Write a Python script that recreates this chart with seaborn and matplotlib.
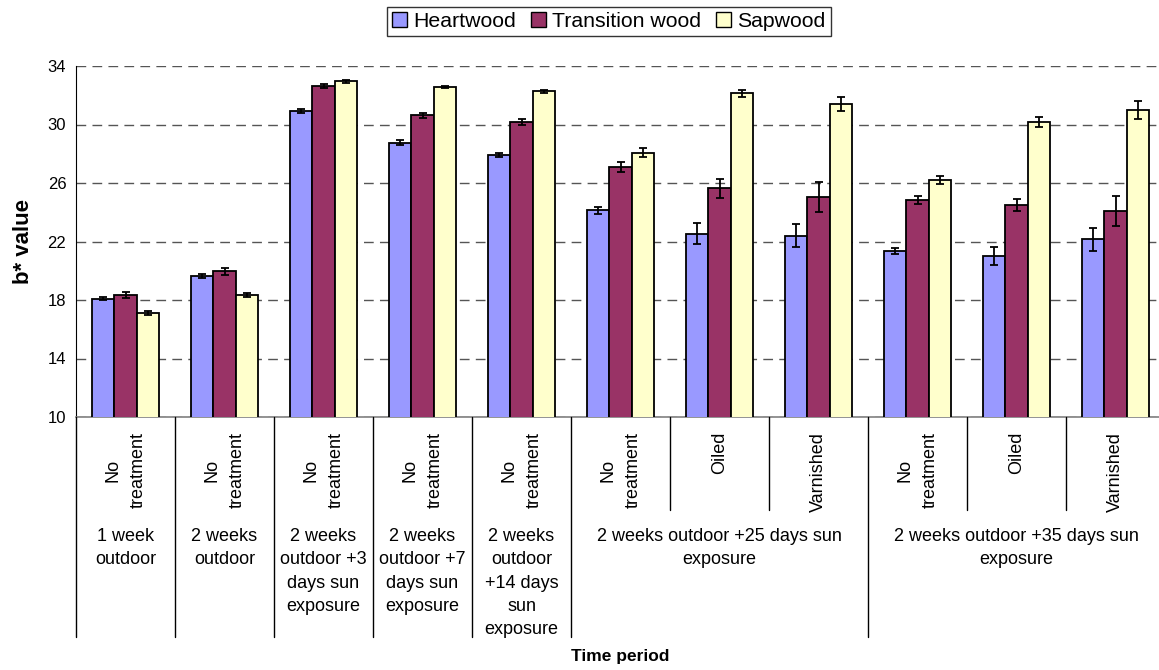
import numpy as np
import pandas as pd
import matplotlib
matplotlib.use("Agg")
import matplotlib.pyplot as plt
import matplotlib.transforms as mtransforms
from matplotlib.patches import Patch
import seaborn as sns

# ---- data ----
woods = ["Heartwood", "Transition wood", "Sapwood"]
colors = ["#9999FF", "#993366", "#FFFFCC"]

treatments = ["No\ntreatment", "No\ntreatment", "No\ntreatment", "No\ntreatment",
              "No\ntreatment", "No\ntreatment", "Oiled", "Varnished",
              "No\ntreatment", "Oiled", "Varnished"]

periods = ["1 week\noutdoor",
           "2 weeks\noutdoor",
           "2 weeks\noutdoor +3\ndays sun\nexposure",
           "2 weeks\noutdoor +7\ndays sun\nexposure",
           "2 weeks\noutdoor\n+14 days\nsun\nexposure",
           "2 weeks outdoor +25 days sun\nexposure",
           "2 weeks outdoor +35 days sun\nexposure"]
period_span = [1, 1, 1, 1, 1, 3, 3]

heart = [18.10, 19.65, 30.92, 28.75, 27.91, 24.13, 22.53, 22.41, 21.34, 21.02, 22.16]
heart_err = [0.10, 0.12, 0.12, 0.16, 0.16, 0.25, 0.72, 0.80, 0.22, 0.60, 0.78]
trans = [18.33, 19.97, 32.63, 30.63, 30.17, 27.09, 25.63, 25.04, 24.81, 24.49, 24.08]
trans_err = [0.22, 0.25, 0.12, 0.18, 0.18, 0.34, 0.66, 1.00, 0.28, 0.42, 1.00]
sap = [17.10, 18.35, 32.96, 32.55, 32.27, 28.07, 32.13, 31.40, 26.20, 30.19, 31.01]
sap_err = [0.12, 0.13, 0.10, 0.08, 0.10, 0.30, 0.25, 0.50, 0.30, 0.33, 0.62]

yticks = [10, 14, 18, 22, 26, 30, 34]

# ---- long-form table for seaborn ----
slots = [f"c{i}" for i in range(len(treatments))]
df = pd.DataFrame({
    "slot": slots * 3,
    "wood": np.repeat(woods, len(slots)),
    "value": heart + trans + sap,
})

sns.set_style("white")
plt.rcParams["font.family"] = ["Liberation Sans", "DejaVu Sans"]
plt.rcParams["text.color"] = "black"
plt.rcParams["axes.labelcolor"] = "black"

fig, ax = plt.subplots(figsize=(11.59, 6.70), dpi=100)
ax.set_position([76 / 1159, 253 / 670, 1089 / 1159, 351 / 670])

sns.barplot(data=df, x="slot", y="value", hue="wood", order=slots, hue_order=woods,
            palette=colors, saturation=1, width=0.667, errorbar=None,
            edgecolor="black", linewidth=1.3, legend=False, ax=ax, zorder=3)

# error bars on top of each bar
for cont, errs in zip(ax.containers, [heart_err, trans_err, sap_err]):
    xs = [b.get_x() + b.get_width() / 2 for b in cont]
    ys = [b.get_height() for b in cont]
    ax.errorbar(xs, ys, yerr=errs, fmt="none", ecolor="black", elinewidth=1.3,
                capsize=3.2, capthick=1.3, zorder=4)

ax.set_xlim(-0.5, len(slots) - 0.5)
ax.set_ylim(10, 34)
ax.set_yticks(yticks)
ax.tick_params(axis="y", direction="out", length=4, width=1, labelsize=12,
               colors="black", labelcolor="black", pad=3)
ax.set_xticks([])
ax.yaxis.grid(True, linestyle=(0, (7, 4.5)), color="#555555", linewidth=1.0, zorder=0)
ax.set_axisbelow(True)
sns.despine(ax=ax, top=True, right=True)
ax.spines["left"].set_color("black")
ax.spines["bottom"].set_color("#808080")
ax.spines["bottom"].set_linewidth(1.2)

ax.set_xlabel("")
ax.set_ylabel("b* value", fontsize=16, fontweight="bold", color="black")
ax.yaxis.set_label_coords(-0.039, 0.5)

# ---- multi-level category axis ----
trans_blend = mtransforms.blended_transform_factory(ax.transData, ax.transAxes)
for i, t in enumerate(treatments):
    ax.text(i, -0.043, t, transform=trans_blend, rotation=90, ha="center", va="top",
            multialignment="center", fontsize=13, linespacing=1.65, color="black")

starts = np.cumsum([0] + period_span[:-1])
group_edges = set()
for s, span, p in zip(starts, period_span, periods):
    ax.text(s + (span - 1) / 2, -0.316, p, transform=trans_blend, ha="center", va="top",
            multialignment="center", fontsize=13, linespacing=1.49, color="black")
    group_edges.add(s - 0.5)
    group_edges.add(s + span - 0.5)

for b in np.arange(-0.5, len(slots), 1.0):
    low = -0.627 if b in group_edges else -0.265
    ax.plot([b, b], [0, low], transform=trans_blend, color="black", lw=1.0,
            clip_on=False, zorder=5)

fig.text(620 / 1159, 1 - 657 / 670, "Time period", ha="center", va="center",
         fontsize=12.5, fontweight="bold", color="black")

handles = [Patch(facecolor=c, edgecolor="black", linewidth=1) for c in colors]
leg = fig.legend(handles, woods, loc="center", bbox_to_anchor=(609 / 1159, 1 - 21.5 / 670),
                 ncol=3, frameon=True, fancybox=False, edgecolor="black",
                 handlelength=0.7, handleheight=0.7, handletextpad=0.3,
                 columnspacing=0.7, borderpad=0.25, fontsize=15.3)
leg.get_frame().set_linewidth(1.0)
for txt in leg.get_texts():
    txt.set_color("black")

fig.savefig("out.png", dpi=100)
